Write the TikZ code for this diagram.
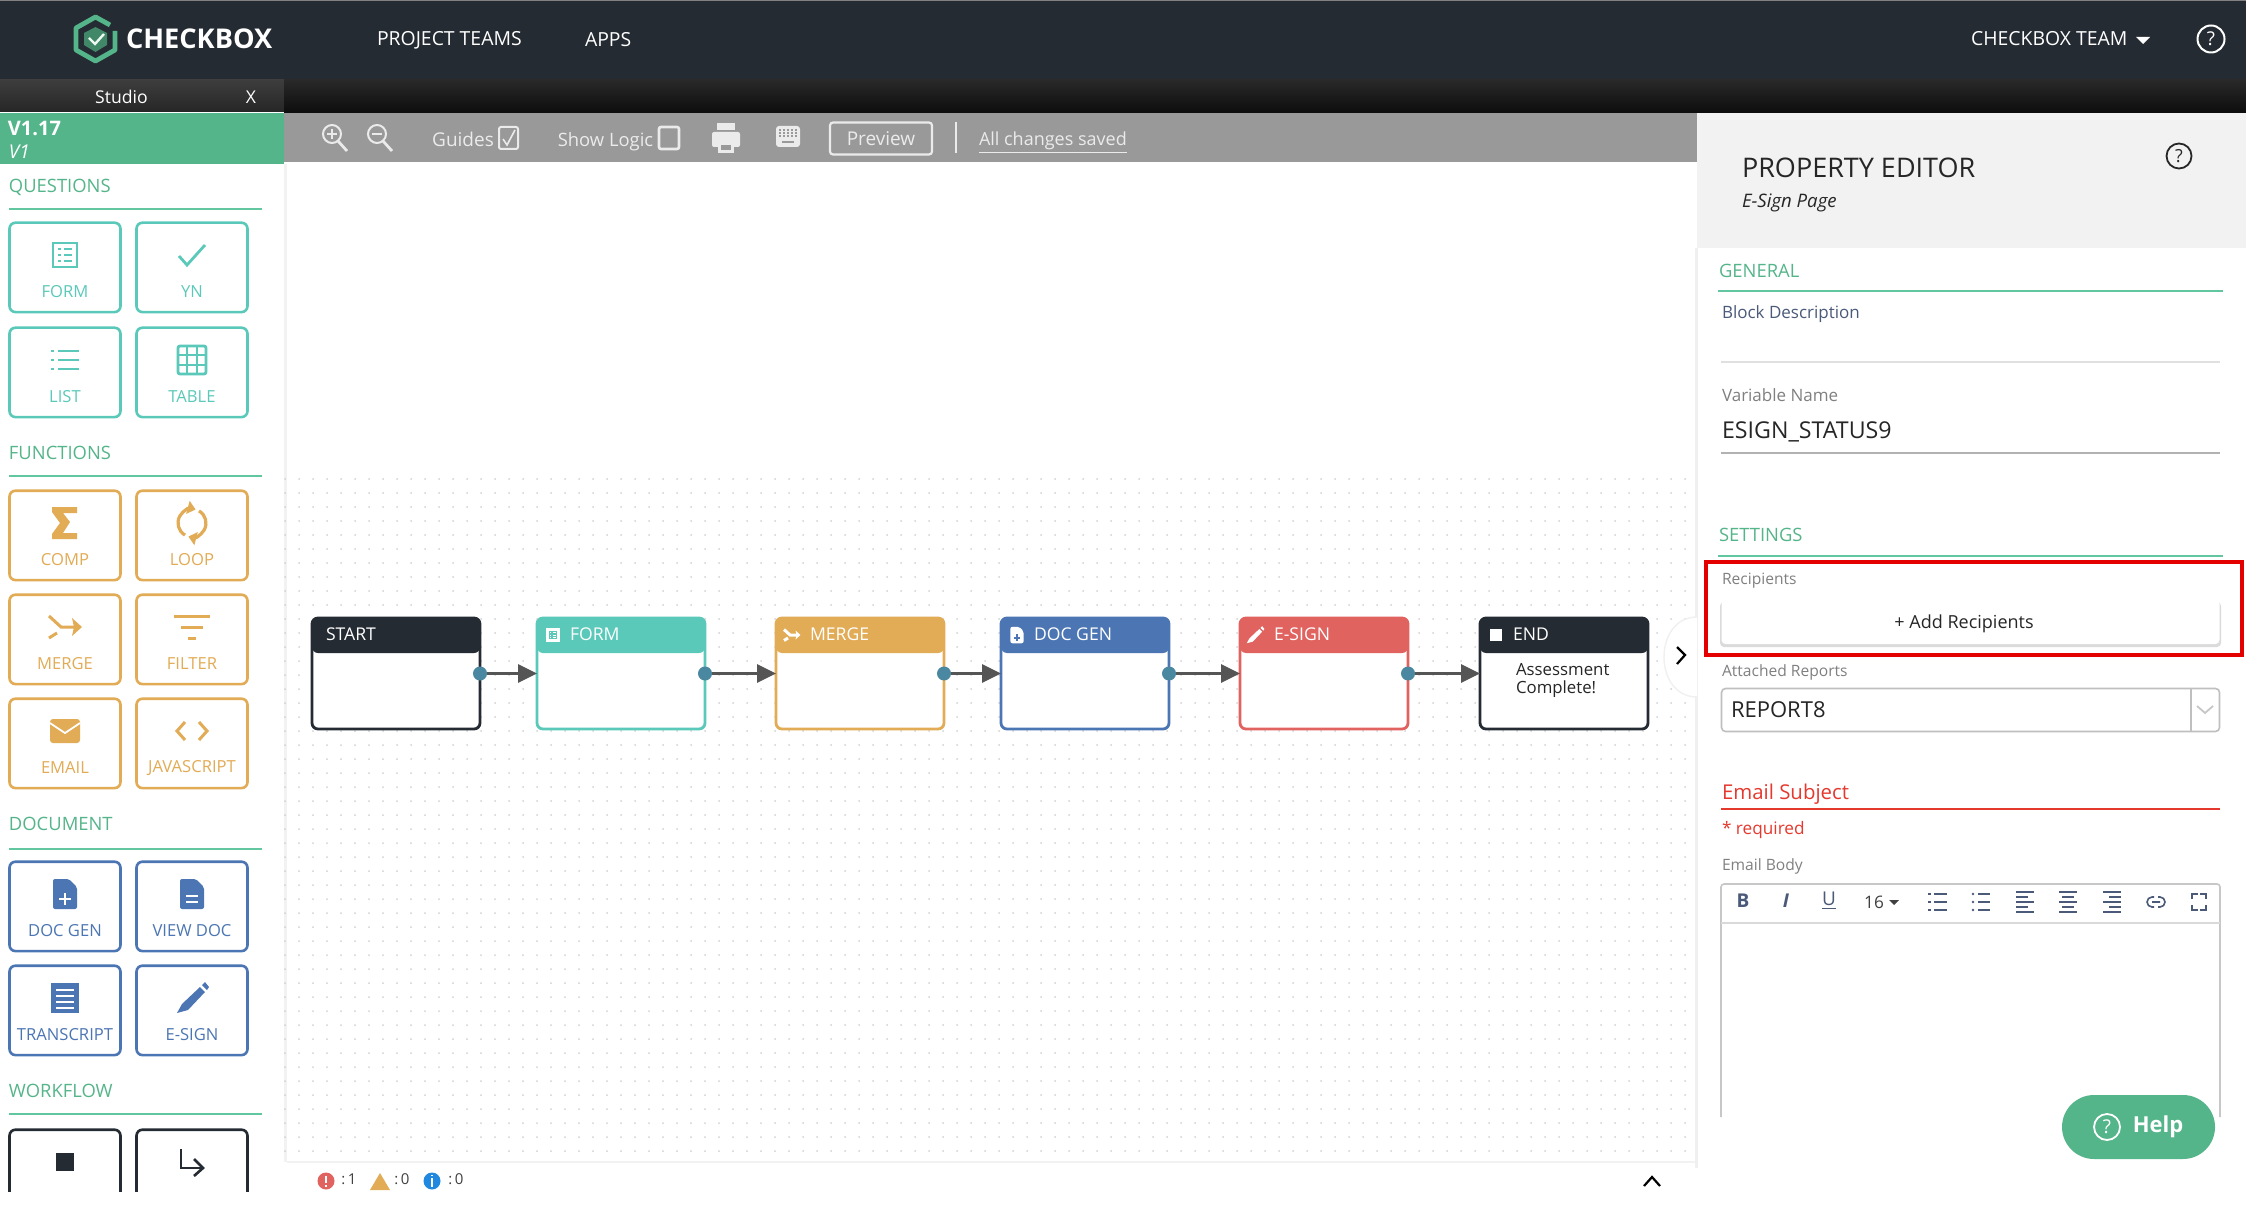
\documentclass[tikz,border=0pt]{standalone}
\usepackage{fontspec}
\setmainfont{Open Sans}
\usetikzlibrary{arrows.meta}
\definecolor{headdark}{HTML}{252B33}
\definecolor{brandgreen}{HTML}{55B58A}
\definecolor{ruleteal}{HTML}{62C6A0}
\definecolor{qteal}{HTML}{5BC9B9}
\definecolor{fyellow}{HTML}{E2AB55}
\definecolor{dblue}{HTML}{4C76B3}
\definecolor{esred}{HTML}{E0635F}
\definecolor{alertred}{HTML}{E5392E}
\definecolor{portblue}{HTML}{4A87A0}
\definecolor{edgegray}{HTML}{555555}
\definecolor{bargray}{HTML}{999999}
\definecolor{inkblue}{HTML}{4A5A78}
\colorlet{icoback}{white}
\tikzset{
  every node/.style={inner sep=0pt,outer sep=0pt},
  fs/.style={font=\fontsize{#1}{#1}\selectfont},
  btn/.style={rectangle,rounded corners=3pt,line width=1.3pt,fill=white,minimum width=55.5pt,minimum height=44.7pt,anchor=north},
  flowbox/.style={rectangle,rounded corners=3pt,draw=#1,line width=1.4pt,fill=white,minimum width=84pt,minimum height=55.5pt,anchor=north west,
    path picture={\fill[#1] (path picture bounding box.north west) rectangle ([yshift=-17.5pt]path picture bounding box.north east);}},
  flowedge/.style={edgegray,line width=1.6pt,-{Triangle[length=9.5pt,width=9pt]},shorten >=0pt},
  port/.style={circle,fill=portblue,minimum size=7pt},
  hdr/.style={text=white,fs=9.7,anchor=west},
  sect/.style={text=brandgreen,fs=9.2,anchor=west},
  flabel/.style={anchor=west,fs=8.5,text=gray},
  tool/.style={text=white!92!black,fs=9.5,anchor=center},
  icoform/.pic={\draw[line width=1.2pt] (-12,-12) rectangle (12,12);
    \foreach \ry in {-6,0,6} {\fill (-7,\ry-1) rectangle (-4,\ry+1); \fill (-1,\ry-1) rectangle (7,\ry+1);}},
  icoyn/.pic={\draw[line width=1.4pt] (-13,1) -- (-5,10) -- (13,-10);},
  icolist/.pic={\foreach \ry in {-9,0,9} {\draw[line width=1.2pt] (-7,\ry) -- (14,\ry); \draw[line width=0.9pt] (-14,\ry) -- (-11,\ry);}},
  icotable/.pic={\draw[line width=1.4pt,rounded corners=1pt] (-14,-14) rectangle (14,14);
    \draw[line width=1.2pt] (-5,-14) -- (-5,14) (5,-14) -- (5,14) (-14,-5) -- (14,-5) (-14,5) -- (14,5);},
  icocomp/.pic={\fill (-13,-16) -- (12,-16) -- (12,-10) -- (-2,-10) -- (5,-1) -- (-2,10) -- (12,10) -- (12,16) -- (-13,16) -- (-13,11) -- (-5,0) -- (-13,-11) -- cycle;},
  icoloop/.pic={\draw[line width=1.6pt,-{Triangle[length=4pt,width=6.5pt]}] (-7,12.1) arc[start angle=120,end angle=285,radius=14];
    \draw[line width=1.6pt,-{Triangle[length=4pt,width=6.5pt]}] (7,-12.1) arc[start angle=300,end angle=465,radius=14];},
  icomerge/.pic={\draw[line width=1.5pt] (-16,-11) -- (-4,0) -- (10,0) (-16,11) -- (-8,6);
    \fill (7,-9) -- (17,0) -- (7,9) -- (9,0) -- cycle;},
  icofilter/.pic={\draw[line width=1.5pt] (-18,-11) -- (18,-11) (-11,0) -- (11,0) (-4,11) -- (4,11);},
  icoemail/.pic={\fill[rounded corners=1.5pt] (-15,-12) rectangle (15,12);
    \draw[icoback,line width=0.9pt] (-15,-8) -- (0,2) -- (15,-8);},
  icojavascript/.pic={\draw[line width=1.5pt] (-7,-9) -- (-15,0) -- (-7,9) (7,-9) -- (15,0) -- (7,9);},
  icodocgen/.pic={\fill[rounded corners=1pt] (-12,-15) -- (4,-15) -- (12,-7) -- (12,15) -- (-12,15) -- cycle;
    \draw[icoback,line width=1.1pt] (-6,5) -- (6,5) (0,-1) -- (0,11);},
  icoviewdoc/.pic={\fill[rounded corners=1pt] (-12,-15) -- (4,-15) -- (12,-7) -- (12,15) -- (-12,15) -- cycle;
    \draw[icoback,line width=1.1pt] (-6,2) -- (6,2) (-6,8) -- (6,8);},
  icotranscript/.pic={\fill (-14,-15) rectangle (14,15);
    \draw[icoback,line width=1pt] (-9,-8) -- (9,-8) (-9,-2) -- (9,-2) (-9,4) -- (9,4) (-9,10) -- (9,10);},
  icoesign/.pic={\fill (-10,6) -- (8,-11) -- (13,-6) -- (-4,12) -- (-15,15) -- cycle;
    \fill (10,-13) -- (13,-16) -- (17,-11) -- (15,-8) -- cycle;},
  icostop/.pic={\fill (-9,-9) rectangle (9,9);},
  icoturn/.pic={\draw[line width=1.3pt] (-11,-13) -- (-11,6) -- (10,6);
    \draw[line width=1.3pt] (2,-3) -- (11,6) -- (2,14);},
  icozoom/.pic={\draw[line width=1pt] (-3,-4) circle (9); \draw[line width=1.4pt] (3,3) -- (12,13);},
  icoprinter/.pic={\fill[rounded corners=1pt] (-14,-6) rectangle (14,9);
    \fill (-9,-15) rectangle (9,-8);
    \fill (-8,4) rectangle (8,15);
    \fill[bargray] (-5,7) rectangle (5,12);},
  icokeyboard/.pic={\fill[rounded corners=1.5pt] (-12,-10) rectangle (12,11);
    \foreach \ry in {-6,-3,0} \foreach \rx in {-8,-4,0,4,8} {\fill[bargray] (\rx-1,\ry-0.8) rectangle (\rx+1,\ry+0.8);}
    \fill[bargray] (-6,5) rectangle (6,7);}
}
\begin{document}
\begin{tikzpicture}[x=0.5pt,y=-0.5pt]
\useasboundingbox (0,0) rectangle (2246,1208);
\fill[white] (0,0) rectangle (2246,1208);
% dotted canvas
\fill[black!5] (284,164) rectangle (287,1162);
\fill[black!5] (287,1161) rectangle (1697,1163);
\fill[black!6] (1695,248) rectangle (1698,1168);
\foreach \dy in {479,493,...,1153} \foreach \dx in {285,299,...,1690} \fill[black!18] (\dx,\dy) circle (0.5pt);
% top bars
\fill[headdark] (0,0) rectangle (2246,80);
\fill[black!50] (0,0) rectangle (2246,1);
\shade[top color=black!76,bottom color=black!85] (0,80) rectangle (284,112);
\shade[top color=black!84,bottom color=black!95] (284,80) rectangle (2246,113);
\fill[brandgreen] (0,113) rectangle (284,164);
\fill[bargray] (284,113) rectangle (1697,162);
\fill[black!5] (1697,113) rectangle (2246,248);
% logo
\draw[brandgreen,line width=2.4pt,line join=round] (110,25) -- (95.5,17) -- (76,28) -- (76,50) -- (95.5,61) -- (115,50) -- (115,31);
\fill[brandgreen!75!black] (84,33) -- (95.5,27) -- (107,33) -- (107,45) -- (95.5,52) -- (84,45) -- cycle;
\draw[white!90!brandgreen,line width=1.2pt] (89,38) -- (95,44) -- (104,34);
\node[anchor=west,text=white,font=\fontsize{13.6}{14}\selectfont\bfseries] (tbrand) at (126,39) {CHECKBOX};
\node[hdr] (tteams) at (377,40) {PROJECT TEAMS};
\node[hdr] (tapps) at (585,40) {APPS};
\node[hdr] (tteam) at (1971,39) {CHECKBOX TEAM};
\fill[white] (2136,37) -- (2150,37) -- (2143,44) -- cycle;
\node[circle,draw=white,line width=1pt,minimum size=13.5pt,text=white,fs=9.5] (thelp) at (2211,39) {?};
\node[text=white,fs=8.8] (tstudio) at (121.5,97) {Studio};
\node[text=white,fs=8.8] (tclose) at (251,97) {X};
\node[anchor=west,text=white,font=\fontsize{10}{10}\selectfont\bfseries] (tver) at (8,128) {V1.17};
\node[anchor=west,text=white,font=\fontsize{9.5}{10}\selectfont\itshape] (tvone) at (9,152) {V1};
% toolbar
\pic[color=white!92!black] at (335,138) {icozoom};
\draw[white!92!black,line width=0.8pt] (327,134) -- (337,134) (332,129) -- (332,139);
\pic[color=white!92!black] at (380,138) {icozoom};
\draw[white!92!black,line width=0.8pt] (372,134) -- (382,134);
\node[tool] (tguides) at (463,139) {Guides};
\draw[white!92!black,line width=1pt,rounded corners=1pt] (499,127) rectangle (518,149);
\draw[white!92!black,line width=0.8pt] (503,139) -- (507,145) -- (515,130);
\node[tool,fs=9.2] (tlogic) at (605.5,142) {Show Logic};
\draw[white!92!black,line width=1.3pt,rounded corners=1pt] (659,127) rectangle (679,149);
\pic[color=white!92!black] at (726,138) {icoprinter};
\pic[color=white!92!black] at (788,136) {icokeyboard};
\node[tool,draw=white!92!black,line width=1.1pt,rounded corners=1.5pt,minimum width=51pt,minimum height=16pt] (tpreview) at (881,138.5) {Preview};
\draw[white!92!black,line width=1pt] (956,122) -- (956,153);
\node[tool,anchor=west,fs=9] (tsaved) at (979,143) {\underline{All changes saved}};
% palette headings
\foreach \nm/\lab/\ty/\ly in {questions/QUESTIONS/187/209,functions/FUNCTIONS/453/476,document/DOCUMENT/824/849,workflow/WORKFLOW/1091/1114} {
  \node[sect] (s\nm) at (9,\ty) {\lab};
  \draw[ruleteal,line width=0.9pt] (9,\ly) -- (262,\ly);
}
% palette buttons
\foreach \nm/\bx/\by/\lab/\col in {form/65/222/FORM/qteal,yn/192/222/YN/qteal,list/65/327/LIST/qteal,table/192/327/TABLE/qteal,
  comp/65/490/COMP/fyellow,loop/192/490/LOOP/fyellow,merge/65/594/MERGE/fyellow,filter/192/594/FILTER/fyellow,email/65/698/EMAIL/fyellow,javascript/192/698/JAVASCRIPT/fyellow,
  docgen/65/861/DOC GEN/dblue,viewdoc/192/861/VIEW DOC/dblue,transcript/65/965/TRANSCRIPT/dblue,esign/192/965/E-SIGN/dblue} {
  \node[btn,draw=\col] (b\nm) at (\bx,\by+0.7) {};
  \pic[color=\col] at (\bx,\by+33) {ico\nm};
  \node[text=\col,fs=8.3] (l\nm) at (\bx,\by+70) {\lab};
}
\begin{scope}
\clip (0,1120) rectangle (284,1191);
\foreach \nm/\bx in {stop/65,turn/192} {
  \node[btn,draw=headdark] (b\nm) at (\bx,1129.7) {};
  \pic[color=headdark] at (\bx,1162) {ico\nm};
}
\end{scope}
% flow blocks
\foreach \nm/\bx/\lab/\tx/\col in {start/312/START/326/headdark,form/537/FORM/570/qteal,merge/776/MERGE/810/fyellow,docgen/1001/DOC GEN/1034/dblue,esign/1240/E-SIGN/1274/esred,stop/1480/END/1513/headdark} {
  \node[flowbox=\col] (\nm) at (\bx,618) {};
  \node[hdr,fs=8.8] (t\nm) at (\tx,634) {\lab};
}
\begin{scope}[local bounding box=flowicons]
\colorlet{icoback}{qteal}
\pic[white,scale=0.45,line width=0.6pt] at (553,635) {icoform};
\pic[white,scale=0.5] at (792,635) {icomerge};
\colorlet{icoback}{dblue}
\pic[white,scale=0.55] at (1017,635) {icodocgen};
\pic[white,scale=0.55] at (1255,635) {icoesign};
\pic[white,scale=0.62] at (1496,635) {icostop};
\end{scope}
\foreach \a/\b in {start/form,form/merge,merge/docgen,docgen/esign,esign/stop} {
  \draw[flowedge] (\a.east) -- (\b.west);
  \node[port] (p\a) at (\a.east) {};
}
\node[anchor=north west,align=left,fs=8.4,text=black!85,font=\fontsize{8.4}{9}\selectfont] (tdone) at (1516,663) {Assessment\\Complete!};
\fill[white] (1697,617) .. controls (1653,617) and (1653,697) .. (1697,697);
\draw[black!6,line width=0.7pt] (1697,617) .. controls (1653,617) and (1653,697) .. (1697,697);
\draw[black,line width=1.1pt] (1677,647) -- (1685,655) -- (1677,664);
% status bar
\fill[esred] (326,1181) circle (8.5);
\draw[white,line width=0.7pt] (326,1176) -- (326,1183) (326,1185) -- (326,1187);
\node[fs=7.5,text=black!75] (terr) at (349,1179) {:\,1};
\fill[fyellow] (370,1190) -- (390,1190) -- (380,1173) -- cycle;
\node[fs=7.5,text=black!75] (twarn) at (402,1179) {:\,0};
\fill[blue!45!cyan!75!gray] (432,1181) circle (8.5);
\draw[white,line width=0.7pt] (432,1178) -- (432,1187) (432,1175) -- (432,1176);
\node[fs=7.5,text=black!75] (tinfo) at (456,1179) {:\,0};
\draw[black,line width=1.1pt] (1644,1186) -- (1652,1177) -- (1660,1186);
% property editor
\node[anchor=west,fs=13.5,text=black!85] (tprop) at (1742,168) {PROPERTY EDITOR};
\node[anchor=west,text=black!85,font=\fontsize{9.3}{10}\selectfont\itshape] (tpage) at (1742,203) {E-Sign Page};
\node[circle,draw=black!85,line width=0.9pt,minimum size=12.5pt,text=black!85,fs=9] (tphelp) at (2179,156) {?};
\node[sect] (sgeneral) at (1719,271) {GENERAL};
\draw[ruleteal,line width=1pt] (1718,291) -- (2223,291);
\node[flabel,text=inkblue] (tblock) at (1722,314) {Block Description};
\draw[black!12,line width=0.7pt] (1721,362) -- (2220,362);
\node[flabel] (tvar) at (1722,395) {Variable Name};
\node[anchor=west,fs=11.6,text=black!85] (tvarval) at (1722,432) {ESIGN\_STATUS9};
\draw[black!30,line width=0.9pt] (1721,453) -- (2220,453);
\node[sect] (ssettings) at (1719,535) {SETTINGS};
\draw[ruleteal,line width=1pt] (1718,556) -- (2223,556);
\node[flabel,fs=7.8] (trecip) at (1722,581) {Recipients};
\fill[black!14,rounded corners=2pt] (1720,602) rectangle (2221,647);
\node[fill=white,rounded corners=2pt,minimum width=249pt,minimum height=22pt] (badd) at (1970.5,622) {};
\node[text=black!85,fs=9] (tadd) at (1964,624) {+ Add Recipients};
\draw[red!90!black,line width=1.9pt] (1706,562) rectangle (2242,655);
\node[flabel,fs=7.8] (tattach) at (1722,672) {Attached Reports};
\node[draw=black!25,line width=0.8pt,rounded corners=2pt,minimum width=249pt,minimum height=21.5pt] (bselect) at (1970.5,710) {};
\draw[black!25,line width=0.8pt] (2191,688) -- (2191,732);
\draw[black!22,line width=0.9pt] (2197,706) -- (2205,713) -- (2213,706);
\node[anchor=west,fs=11,text=black!85] (treport) at (1731,710) {REPORT8};
\node[anchor=west,fs=10.2,text=alertred] (tsubject) at (1722,794) {Email Subject};
\draw[alertred,line width=1pt] (1721,809) -- (2220,809);
\node[anchor=west,fs=8.6,text=alertred] (treq) at (1722,830) {* required};
\node[flabel,fs=7.8] (tbody) at (1722,866) {Email Body};
% editor box
\draw[black!22,line width=0.8pt,rounded corners=1.5pt] (1721,1117) -- (1721,884) -- (2220,884) -- (2220,1117);
\draw[black!15,line width=0.8pt] (1721,923) -- (2220,923);
\node[text=inkblue,font=\fontsize{9.5}{10}\selectfont\bfseries] (ebold) at (1743,901) {B};
\node[text=inkblue,font=\fontsize{9.5}{10}\selectfont\bfseries\itshape] (eital) at (1786,901) {I};
\node[text=inkblue,fs=9.5] (eunder) at (1829,901) {\underline{U}};
\node[text=black!75,fs=8.6] (esize) at (1874,902) {16};
\fill[black!75] (1889,900) -- (1899,900) -- (1894,905) -- cycle;
\foreach \ry in {894,902,910} {
  \draw[inkblue,line width=0.9pt] (1934,\ry) -- (1947,\ry) (1978,\ry) -- (1990,\ry);
  \draw[inkblue,line width=0.7pt] (1928,\ry) -- (1931,\ry);
  \fill[inkblue] (1973,\ry) circle (1.3);
}
\foreach \ry/\rw in {892/9,897/6,902/9,907/6,912/9} {
  \draw[inkblue,line width=0.7pt] (2016,\ry) -- (2016+2*\rw,\ry);
  \draw[inkblue,line width=0.7pt] (2068-\rw,\ry) -- (2068+\rw,\ry);
  \draw[inkblue,line width=0.7pt] (2121-2*\rw,\ry) -- (2121,\ry);
}
\draw[inkblue,line width=0.8pt,rounded corners=2.5pt] (2154,897) -- (2147,897) -- (2147,907) -- (2154,907) (2158,897) -- (2165,897) -- (2165,907) -- (2158,907) (2152,902) -- (2160,902);
\draw[inkblue,line width=0.8pt] (2192,899) -- (2192,894) -- (2198,894) (2200,894) -- (2206,894) -- (2206,899) (2206,905) -- (2206,910) -- (2200,910) (2198,910) -- (2192,910) -- (2192,905);
% help button
\node[fill=brandgreen,rounded corners=16pt,minimum width=76.5pt,minimum height=32pt] (bhelp) at (2138.5,1127) {};
\node[circle,draw=white,line width=0.9pt,minimum size=13pt,text=white,fs=9.5] (thq) at (2107,1127) {?};
\node[text=white,font=\fontsize{11}{11}\selectfont\bfseries] (thelpb) at (2158,1127) {Help};
\end{tikzpicture}
\end{document}
